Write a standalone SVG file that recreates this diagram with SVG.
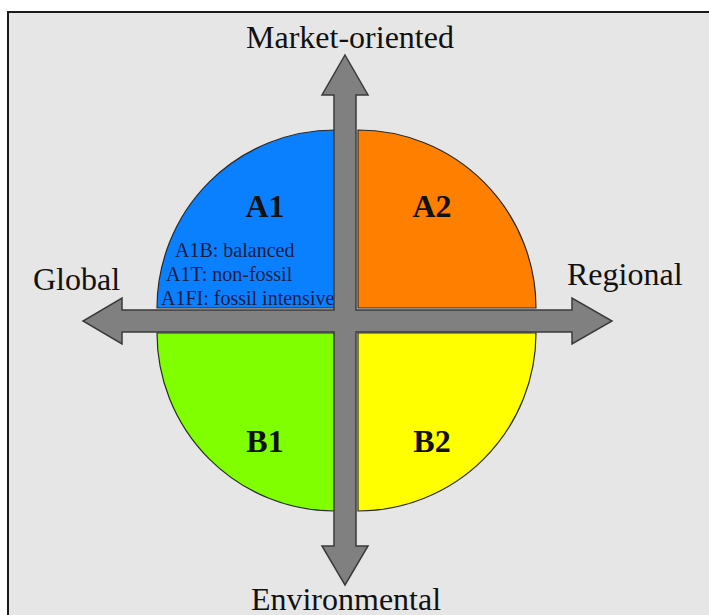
<svg xmlns="http://www.w3.org/2000/svg" width="709" height="615" viewBox="0 0 709 615">
  <style>
    .quad { stroke: #2a2a2a; stroke-width: 1.2; }
    .axis { font-family: "Liberation Serif", "Times New Roman", serif; font-size: 32px; fill: #111; }
    .qlab { font-family: "Liberation Serif", "Times New Roman", serif; font-size: 32px; font-weight: bold; fill: #111; text-anchor: middle; }
    .sub { font-family: "Liberation Serif", "Times New Roman", serif; font-size: 20px; fill: #1b1b3f; }
    .arrow { fill: #808080; stroke: #3a3a3a; stroke-width: 1.5; stroke-linejoin: miter; }
  </style>
  <rect x="0" y="0" width="709" height="615" fill="#ffffff"/>
  <rect x="8" y="12" width="705" height="610" fill="#e6e6e6" stroke="#1a1a1a" stroke-width="2"/>

  <g id="A1">
    <path class="quad" d="M335,308 L157,308 A178,178 0 0 1 335,130 Z" fill="#0a80ff"/>
    <text class="qlab" x="265" y="217">A1</text>
    <text class="sub" x="175" y="257">A1B: balanced</text>
    <text class="sub" x="166" y="281">A1T: non-fossil</text>
    <text class="sub" x="161" y="305">A1FI: fossil intensive</text>
  </g>
  <g id="A2">
    <path class="quad" d="M358,308 L358,130 A178,178 0 0 1 536,308 Z" fill="#ff8000"/>
    <text class="qlab" x="432" y="217">A2</text>
  </g>
  <g id="B1">
    <path class="quad" d="M335,333 L335,511 A178,178 0 0 1 157,333 Z" fill="#80ff00"/>
    <text class="qlab" x="265" y="452">B1</text>
  </g>
  <g id="B2">
    <path class="quad" d="M358,333 L536,333 A178,178 0 0 1 358,511 Z" fill="#ffff00"/>
    <text class="qlab" x="432" y="452">B2</text>
  </g>

  <g id="connectors">
    <path class="arrow" d="M345,55 L368,95 L356,95 L356,310 L572,310 L572,298 L612,321 L572,344 L572,332 L356,332 L356,546 L368,546 L345,585 L322,546 L334,546 L334,332 L122,332 L122,344 L83,321 L122,298 L122,310 L334,310 L334,95 L322,95 Z"/>
  </g>

  <g id="axis-labels">
    <text class="axis" x="350" y="48" text-anchor="middle">Market-oriented</text>
    <text class="axis" x="346" y="610" text-anchor="middle">Environmental</text>
    <text class="axis" x="33" y="290">Global</text>
    <text class="axis" x="567" y="285">Regional</text>
  </g>
</svg>
